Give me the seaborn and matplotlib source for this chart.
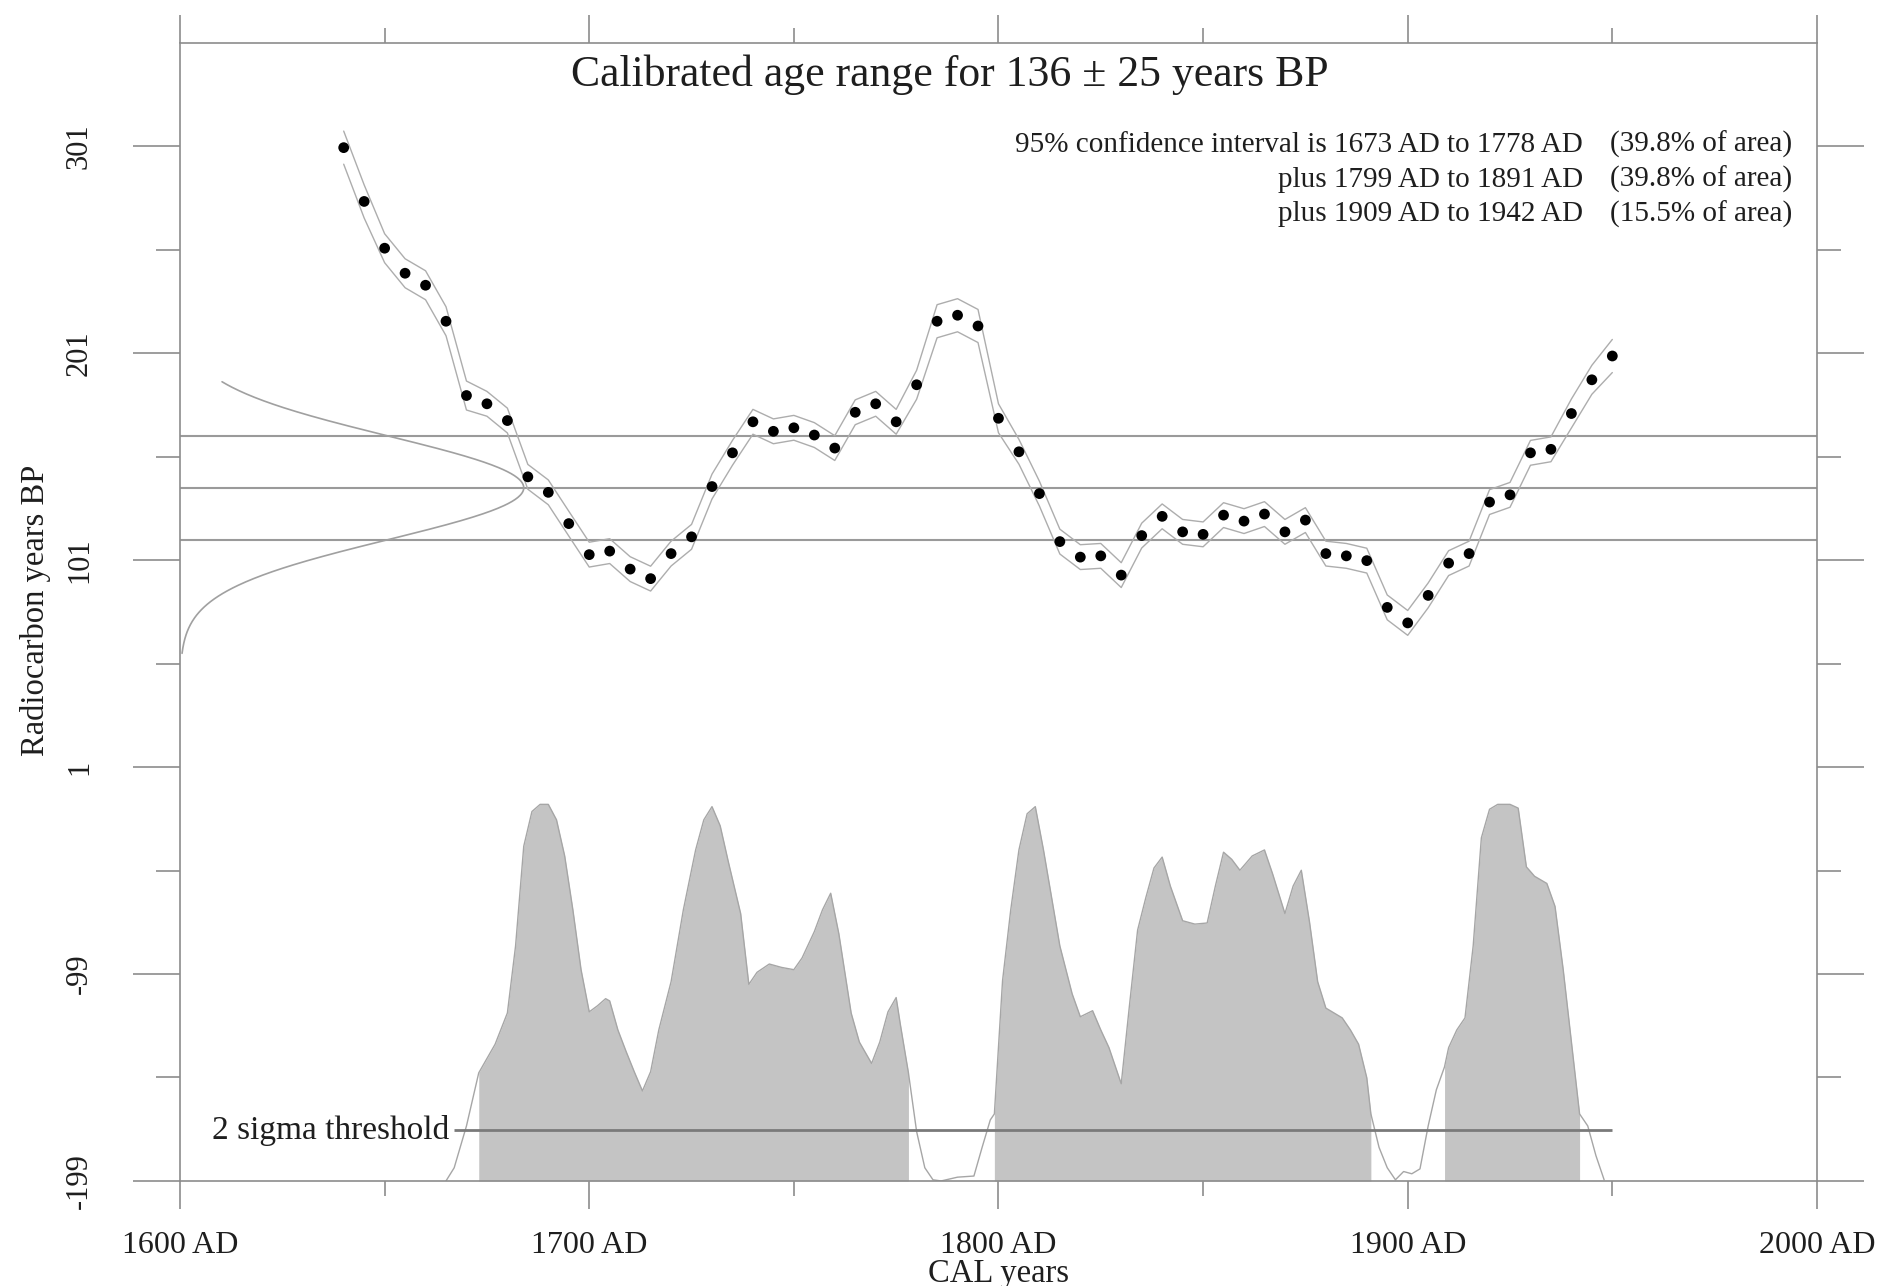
import numpy as np
import pandas as pd
import matplotlib
matplotlib.use("Agg")
import matplotlib.pyplot as plt
import seaborn as sns
from matplotlib.ticker import FixedLocator

# ---------------- data ----------------
C14_AGE = 136
C14_ERR = 25
title_text = "Calibrated age range for 136 \u00b1 25 years BP"

ranges_left = ["95% confidence interval is 1673 AD to 1778 AD",
               "plus 1799 AD to 1891 AD",
               "plus 1909 AD to 1942 AD"]
ranges_right = ["(39.8% of area)", "(39.8% of area)", "(15.5% of area)"]
range_bounds = [(1673, 1778), (1799, 1891), (1909, 1942)]

# calibration curve (cal AD vs radiocarbon BP) with 1-sigma
curve_years = [1640, 1645, 1650, 1655, 1660, 1665, 1670, 1675, 1680, 1685,
               1690, 1695, 1700, 1705, 1710, 1715, 1720, 1725, 1730, 1735,
               1740, 1745, 1750, 1755, 1760, 1765, 1770, 1775, 1780, 1785,
               1790, 1795, 1800, 1805, 1810, 1815, 1820, 1825, 1830, 1835,
               1840, 1845, 1850, 1855, 1860, 1865, 1870, 1875, 1880, 1885,
               1890, 1895, 1900, 1905, 1910, 1915, 1920, 1925, 1930, 1935,
               1940, 1945, 1950]
curve_bp = [300.4, 274.4, 251.8, 239.7, 233.9, 216.5, 180.6, 176.6, 168.5, 141.3,
            133.8, 118.7, 103.7, 105.4, 96.7, 92.1, 104.2, 112.3, 136.6, 152.9,
            167.9, 163.3, 165.0, 161.5, 155.2, 172.5, 176.6, 167.9, 185.8, 216.5,
            219.4, 214.2, 169.6, 153.4, 133.2, 110.0, 102.5, 103.1, 93.8, 112.9,
            122.2, 114.7, 113.5, 122.8, 119.9, 123.3, 114.7, 120.4, 104.2, 103.1,
            100.8, 78.2, 70.7, 84.0, 99.6, 104.2, 129.1, 132.6, 152.9, 154.6,
            171.9, 188.2, 199.7]
curve_err = [8, 8, 7, 7, 7, 7, 7, 6, 6, 6,
             6, 6, 6, 6, 6, 6, 6, 6, 6, 6,
             6, 6, 6, 6, 6, 6, 6, 6, 7, 8,
             8, 8, 7, 6, 6, 6, 6, 6, 6, 6,
             6, 6, 6, 6, 6, 6, 6, 6, 6, 6,
             6, 6, 6, 6, 6, 6, 6, 6, 6, 6,
             7, 7, 8]

# calibrated probability distribution (relative)
dist_years = [1665, 1667, 1670, 1673, 1677, 1680, 1682, 1684, 1686, 1688,
              1690, 1692, 1694, 1696, 1698, 1700, 1702, 1704, 1705, 1707,
              1709, 1711, 1713, 1715, 1717, 1720, 1723, 1726, 1728, 1730,
              1732, 1734, 1737, 1739, 1741, 1744, 1747, 1750, 1752, 1755,
              1757, 1759, 1761, 1764, 1766, 1769, 1771, 1773, 1775, 1776,
              1778, 1780, 1782, 1784, 1786, 1790, 1794, 1796, 1798, 1799,
              1801, 1803, 1805, 1807, 1809, 1811, 1813, 1815, 1818, 1820,
              1823, 1825, 1827, 1830, 1832, 1834, 1836, 1838, 1840, 1842,
              1845, 1848, 1851, 1853, 1855, 1857, 1859, 1862, 1865, 1867,
              1870, 1872, 1874, 1876, 1878, 1880, 1882, 1884, 1886, 1888,
              1890, 1891, 1893, 1895, 1897, 1899, 1901, 1903, 1905, 1907,
              1909, 1910, 1912, 1914, 1916, 1918, 1920, 1922, 1925, 1927,
              1929, 1931, 1934, 1936, 1938, 1940, 1942, 1944, 1946, 1948]
dist_prob = [0.0, 0.035, 0.146, 0.287, 0.363, 0.446, 0.624, 0.889, 0.981, 1.0,
             1.0, 0.959, 0.863, 0.720, 0.561, 0.449, 0.465, 0.484, 0.478, 0.401,
             0.344, 0.290, 0.239, 0.290, 0.401, 0.529, 0.720, 0.879, 0.959, 0.994,
             0.943, 0.847, 0.710, 0.522, 0.554, 0.576, 0.567, 0.561, 0.592, 0.662,
             0.720, 0.764, 0.656, 0.446, 0.369, 0.312, 0.369, 0.449, 0.487, 0.417,
             0.287, 0.131, 0.035, 0.003, 0.0, 0.010, 0.013, 0.089, 0.162, 0.178,
             0.532, 0.720, 0.879, 0.975, 0.994, 0.879, 0.752, 0.624, 0.497, 0.436,
             0.452, 0.401, 0.354, 0.258, 0.465, 0.666, 0.752, 0.831, 0.860, 0.783,
             0.691, 0.682, 0.685, 0.783, 0.873, 0.854, 0.825, 0.863, 0.879, 0.815,
             0.710, 0.783, 0.825, 0.688, 0.529, 0.459, 0.446, 0.433, 0.401, 0.363,
             0.274, 0.178, 0.089, 0.035, 0.003, 0.025, 0.019, 0.032, 0.146, 0.242,
             0.303, 0.354, 0.401, 0.433, 0.624, 0.911, 0.987, 1.0, 1.0, 0.990,
             0.834, 0.809, 0.790, 0.729, 0.561, 0.369, 0.178, 0.146, 0.067, 0.003]
threshold_prob = 0.134
threshold_span = (1667, 1950)

x_major = [1600, 1700, 1800, 1900, 2000]
x_minor = [1650, 1750, 1850, 1950]
x_labels = ["1600 AD", "1700 AD", "1800 AD", "1900 AD", "2000 AD"]
y_major = [301, 201, 101, 1, -99, -199]
y_minor = [251, 151, 51, -49, -149]
y_labels = ["301", "201", "101", "1", "-99", "-199"]

# --------------- styling constants ---------------
BASE = -199          # baseline of calibrated distribution (y units)
DIST_H = 182         # height of distribution peak (y units)
GAUSS_W = 84.0       # width of radiocarbon gaussian (x units)
TXT = "#1e1e1e"
AX_C = "#8c8c8c"

sns.set_style("white")
plt.rcParams['font.family'] = ['Liberation Serif', 'DejaVu Serif']

fig = plt.figure(figsize=(18.77, 12.86), dpi=100)
ax = fig.add_axes([0.0959, 0.0817, 0.8721, 0.8849])
ax.set_xlim(1600, 2000)
ax.set_ylim(-199, 351)

# reference lines for the radiocarbon age
for v in [C14_AGE + C14_ERR, C14_AGE, C14_AGE - C14_ERR]:
    ax.axhline(v, color="#9a9a9a", lw=1.5, zorder=1)

# radiocarbon gaussian along the y axis
g_bp = np.linspace(C14_AGE - 3.2 * C14_ERR, C14_AGE + 2.05 * C14_ERR, 400)
g_val = np.exp(-0.5 * ((g_bp - C14_AGE) / C14_ERR) ** 2)
gdf = pd.DataFrame({"x": 1600 + GAUSS_W * g_val, "y": g_bp})
sns.lineplot(data=gdf, x="x", y="y", sort=False, color="#a0a0a0", lw=1.2, ax=ax, zorder=2)

# calibration curve envelope and points
cdf = pd.DataFrame({"year": curve_years, "bp": curve_bp, "err": curve_err})
cdf["hi"] = cdf["bp"] + cdf["err"]
cdf["lo"] = cdf["bp"] - cdf["err"]
sns.lineplot(data=cdf, x="year", y="hi", color="#adadad", lw=1.0, ax=ax, zorder=3)
sns.lineplot(data=cdf, x="year", y="lo", color="#adadad", lw=1.0, ax=ax, zorder=3)
sns.scatterplot(data=cdf, x="year", y="bp", color="black", s=60, edgecolor="none",
                ax=ax, zorder=5)

# calibrated probability distribution
ddf = pd.DataFrame({"year": dist_years, "p": dist_prob})
ddf["y"] = BASE + ddf["p"] * DIST_H
for lo, hi in range_bounds:
    sub = ddf[(ddf["year"] >= lo) & (ddf["year"] <= hi)]
    ax.fill_between(sub["year"], BASE, sub["y"], color="#c4c4c4", lw=0, zorder=2)
sns.lineplot(data=ddf, x="year", y="y", color="#a6a6a6", lw=1.0, ax=ax, zorder=2)

# 2 sigma threshold
thr_y = BASE + threshold_prob * DIST_H
ax.hlines(thr_y, threshold_span[0], threshold_span[1], color="#7a7a7a", lw=2, zorder=4)
ax.text(threshold_span[0] - 1.3, thr_y, "2 sigma threshold", ha="right", va="center",
        fontsize=24, color=TXT)

# texts
ax.text(0.47, 0.972, title_text, transform=ax.transAxes, ha="center", va="center",
        fontsize=31.5, color=TXT)
ys = [0.9105, 0.880, 0.8495]
for t1, t2, yy in zip(ranges_left, ranges_right, ys):
    ax.text(0.857, yy, t1, transform=ax.transAxes, ha="right", va="center",
            fontsize=21, color=TXT)
    ax.text(0.985, yy, t2, transform=ax.transAxes, ha="right", va="center",
            fontsize=21, color=TXT)

# axes / ticks
ax.set_xlabel("")
ax.set_ylabel("")
for s in ax.spines.values():
    s.set_visible(True)
    s.set_color(AX_C)
    s.set_linewidth(1.2)
ax.xaxis.set_major_locator(FixedLocator(x_major))
ax.xaxis.set_minor_locator(FixedLocator(x_minor))
ax.set_xticklabels(x_labels)
ax.yaxis.set_major_locator(FixedLocator(y_major))
ax.yaxis.set_minor_locator(FixedLocator(y_minor))
ax.set_yticklabels(y_labels, rotation=90, va="center")
ax.tick_params(axis="x", which="major", direction="out", length=20, width=1.2,
               color=AX_C, labelsize=23, labelcolor=TXT, pad=16, top=True, bottom=True)
ax.tick_params(axis="x", which="minor", direction="out", length=11, width=1.2,
               color=AX_C, top=True, bottom=True)
ax.tick_params(axis="y", which="major", direction="out", length=34, width=1.2,
               color=AX_C, labelsize=22, labelcolor=TXT, pad=28, left=True, right=True)
ax.tick_params(axis="y", which="minor", direction="out", length=17, width=1.2,
               color=AX_C, left=True, right=True)

fig.text(36 / 1877, 0.525, "Radiocarbon years BP", rotation=90, ha="center",
         va="center", fontsize=23.5, color=TXT)
fig.text(0.532, 0.0093, "CAL years", ha="center", va="center", fontsize=23.5, color=TXT)

fig.savefig("out.png", dpi=100)
